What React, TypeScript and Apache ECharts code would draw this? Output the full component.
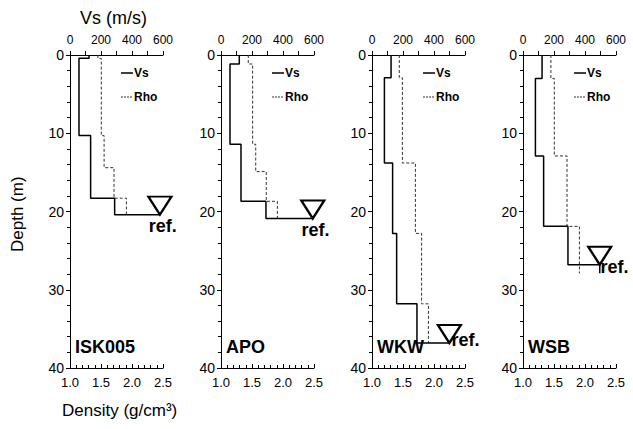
import React, { useEffect, useRef } from "react";
import * as echarts from "echarts";

// ---- data ----
const stations = ["ISK005", "APO", "WKW", "WSB"];
// layer bottom depths (m)
const layerBottoms = [
  [0.43, 10.3, 14.4, 18.3, 20.4],
  [1.15, 11.4, 14.9, 18.7, 20.9],
  [2.9, 13.8, 22.8, 31.8, 36.8],
  [3.0, 12.9, 21.9, 26.8],
];
// shear-wave velocity per layer (m/s)
const vsLayers = [
  [123, 58, 133, 133, 288],
  [118, 58, 129, 129, 290],
  [123, 80, 133, 159, 290],
  [123, 80, 133, 290],
];
// density per layer (g/cm3)
const rhoLayers = [
  [1.45, 1.505, 1.55, 1.71, 1.91],
  [1.44, 1.51, 1.56, 1.73, 1.91],
  [1.44, 1.49, 1.7, 1.8, 1.91],
  [1.45, 1.505, 1.71, 1.91],
];
// reference (half-space) marker
const refVs = [580, 592, 499, 495];
const refDepth = [20.4, 20.9, 36.8, 26.8];
const profileEnd = [20.4, 20.9, 36.8, 27.9];

const vsTicks = { min: 0, max: 600, interval: 200 };
const rhoTicks = { min: 1.0, max: 2.5, interval: 0.5 };
const depthTicks = { min: 0, max: 40, interval: 10 };

const FONT = "Liberation Sans, Arial, Helvetica, sans-serif";

function vsProfile(i: number): number[][] {
  const pts: number[][] = [];
  let top = 0;
  layerBottoms[i].forEach((b, k) => {
    pts.push([vsLayers[i][k], top], [vsLayers[i][k], b]);
    top = b;
  });
  pts.push([refVs[i], top]);
  if (profileEnd[i] > top) pts.push([refVs[i], profileEnd[i]]);
  return pts;
}

function rhoProfile(i: number): number[][] {
  const pts: number[][] = [];
  let top = 0;
  layerBottoms[i].forEach((b, k) => {
    pts.push([rhoLayers[i][k], top], [rhoLayers[i][k], b]);
    top = b;
  });
  const last = rhoLayers[i][rhoLayers[i].length - 1];
  if (profileEnd[i] > top) pts.push([last, profileEnd[i]]);
  return pts;
}

const solidIcon = "path://M0 0H12V1.5H0Z";
const dashIcon = "path://M0 0H2V1H0Z M3 0H5V1H3Z M6 0H8V1H6Z M9 0H11V1H9Z M12 0H12.01V1H12Z";

export default function App() {
  const ref = useRef<HTMLDivElement>(null);
  useEffect(() => {
    document.body.style.margin = "0";
    const chart = echarts.init(ref.current!, null, { renderer: "svg" });
    const lefts = [70, 221, 372, 523];
    const W = 93;
    const top = 55;
    const H = 313;
    const grid: any[] = [];
    const xAxis: any[] = [];
    const yAxis: any[] = [];
    const series: any[] = [];
    const legend: any[] = [];
    const graphic: any[] = [];
    const labelPos = [
      { position: [1.5, 30], align: "left", verticalAlign: "middle" },
      { position: [1.5, 30], align: "left", verticalAlign: "middle" },
      { position: [15, 16], align: "left", verticalAlign: "middle" },
      { position: [13.5, 21], align: "left", verticalAlign: "middle" },
    ];
    stations.forEach((name, i) => {
      grid.push({ left: lefts[i], top, width: W, height: H });
      xAxis.push({
        type: "value",
        gridIndex: i,
        position: "top",
        ...vsTicks,
        axisLine: { show: true, lineStyle: { color: "#000", width: 1 } },
        axisTick: { show: true, inside: false, length: 4, lineStyle: { color: "#000" } },
        minorTick: { show: true, splitNumber: 2, length: 4, lineStyle: { color: "#000" } },
        splitLine: { show: false },
        axisLabel: { color: "#000", fontSize: 12, fontFamily: FONT, margin: 9 },
      });
      xAxis.push({
        type: "value",
        gridIndex: i,
        position: "bottom",
        ...rhoTicks,
        axisLine: { show: true, lineStyle: { color: "#000", width: 1 } },
        axisTick: { show: true, inside: true, length: 4, lineStyle: { color: "#000" } },
        minorTick: { show: true, splitNumber: 5, length: 3, lineStyle: { color: "#000" } },
        splitLine: { show: false },
        axisLabel: {
          color: "#000",
          fontSize: 13,
          fontFamily: FONT,
          margin: 8,
          formatter: (v: number) => v.toFixed(1),
        },
      });
      yAxis.push({
        type: "value",
        gridIndex: i,
        inverse: true,
        ...depthTicks,
        axisLine: { show: true, lineStyle: { color: "#000", width: 1 } },
        axisTick: { show: true, inside: false, length: 4, lineStyle: { color: "#000" } },
        minorTick: { show: true, splitNumber: 5, length: 3, lineStyle: { color: "#000" } },
        splitLine: { show: false },
        axisLabel: { color: "#000", fontSize: 14, fontFamily: FONT, margin: 6 },
      });
      series.push({
        name: "Rho",
        type: "line",
        xAxisIndex: 2 * i + 1,
        yAxisIndex: i,
        data: rhoProfile(i),
        symbol: "none",
        lineStyle: { color: "#333", width: 1, type: [3, 2] },
        itemStyle: { color: "#333" },
      });
      series.push({
        name: "Vs",
        type: "line",
        xAxisIndex: 2 * i,
        yAxisIndex: i,
        data: vsProfile(i),
        symbol: "none",
        lineStyle: { color: "#000", width: 1.5 },
        itemStyle: { color: "#000" },
      });
      series.push({
        name: "ref",
        type: "scatter",
        xAxisIndex: 2 * i,
        yAxisIndex: i,
        data: [[refVs[i], refDepth[i]]],
        symbol: "path://M0 0L10 0L5 8Z",
        symbolSize: [23, 18],
        symbolOffset: [0, -9],
        itemStyle: { color: "#fff", borderColor: "#000", borderWidth: 2.2, opacity: 1 },
        label: {
          show: true,
          formatter: "ref.",
          color: "#000",
          fontWeight: "bold",
          fontSize: 18,
          fontFamily: FONT,
          ...labelPos[i],
        },
        z: 5,
      });
      legend.push({
        data: [
          { name: "Vs", icon: solidIcon },
          { name: "Rho", icon: dashIcon },
        ],
        orient: "vertical",
        left: lefts[i] + 46,
        top: 62,
        itemWidth: 12,
        itemHeight: 14,
        itemGap: 12,
        symbolKeepAspect: true,
        selectedMode: false,
        textStyle: {
          color: "#000",
          fontWeight: "bold",
          fontSize: 12,
          fontFamily: FONT,
          padding: [0, 0, 0, -4],
        },
      });
      graphic.push({
        type: "text",
        left: lefts[i] + 5,
        top: 338,
        style: { text: name, fill: "#000", font: `bold 18px ${FONT}` },
      });
    });
    graphic.push(
      {
        type: "text",
        left: 80,
        top: 9,
        style: { text: "Vs (m/s)", fill: "#000", font: `18px ${FONT}` },
      },
      {
        type: "text",
        left: 62,
        top: 402,
        style: { text: "Density (g/cm³)", fill: "#000", font: `17px ${FONT}` },
      },
      {
        type: "text",
        x: 9,
        y: 252,
        rotation: Math.PI / 2,
        style: { text: "Depth (m)", fill: "#000", font: `17px ${FONT}` },
      }
    );
    chart.setOption({
      animation: false,
      backgroundColor: "#fff",
      grid,
      xAxis,
      yAxis,
      series,
      legend,
      graphic,
    });
    return () => chart.dispose();
  }, []);
  return <div ref={ref} style={{ width: 633, height: 429 }} />;
}
